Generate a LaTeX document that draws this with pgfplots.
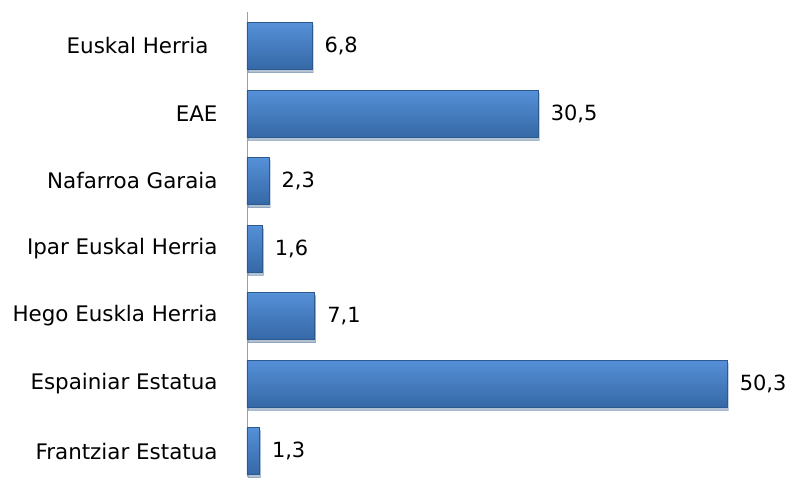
\documentclass[border=0pt]{standalone}
\usepackage{pgfplots}
\pgfplotsset{compat=1.18}
\usepackage{fontspec}
\setmainfont{DejaVu Sans}
\usetikzlibrary{shadows}

\definecolor{bartop}{HTML}{5690D8}
\definecolor{barmid}{HTML}{3F7BC6}
\definecolor{barbot}{HTML}{3568A6}
\definecolor{baredge}{HTML}{2D5A8E}

\pgfplotsset{
  bevelbar/.style={draw=baredge, line width=0.6bp,
    top color=bartop, middle color=barmid, bottom color=barbot,
    drop shadow={shadow xshift=1bp, shadow yshift=-3bp, opacity=0.25}},
}

\begin{document}
\begin{tikzpicture}
\begin{axis}[
  scale only axis,
  width=525bp, height=464.75bp,
  xbar, bar width=47bp, bar shift=0pt,
  xmin=0, xmax=55,
  ymin=-0.5, ymax=6.385, y dir=reverse,
  ytick={0,...,6},
  yticklabels={Euskal Herria\rule{9bp}{0pt}, EAE, Nafarroa Garaia, Ipar Euskal Herria,
               Hego Euskla Herria, Espainiar Estatua, Frantziar Estatua},
  axis x line=none, axis y line*=left,
  y axis line style={draw=gray!75, line width=0.8bp},
  major tick length=0pt,
  xtick=\empty,
  tick label style={font=\fontsize{21.5}{25}\selectfont},
  yticklabel style={xshift=-26bp},
  point meta=x,
  nodes near coords,
  nodes near coords align={horizontal},
  every node near coord/.append style={font=\fontsize{21}{25}\selectfont, xshift=9bp, black},
  /pgf/number format/.cd, use comma, fixed, fixed zerofill, precision=1, assume math mode=true,
]
\addplot[bevelbar] coordinates {(6.8,0)};
\addplot[bevelbar] coordinates {(30.5,1)};
\addplot[bevelbar] coordinates {(2.3,2)};
\addplot[bevelbar] coordinates {(1.6,3)};
\addplot[bevelbar] coordinates {(7.1,4)};
\addplot[bevelbar] coordinates {(50.3,5)};
\addplot[bevelbar] coordinates {(1.3,6)};
\end{axis}
\pgfresetboundingbox
\path ([xshift=-247bp]current axis.south west) rectangle ([xshift=24bp,yshift=12.25bp]current axis.north east);
\end{tikzpicture}
\end{document}
